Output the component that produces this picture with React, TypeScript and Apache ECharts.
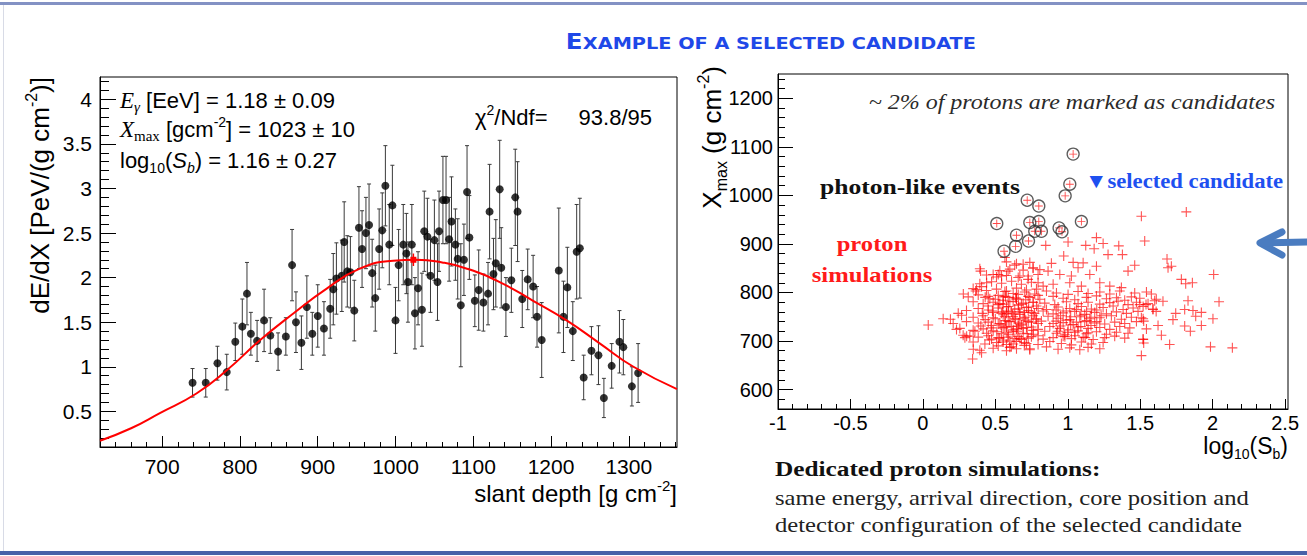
import React, { useEffect, useRef } from "react";
import * as echarts from "echarts";

// ---------- Left panel: longitudinal profile ----------
const depth = [739, 756, 771, 783, 794, 803, 809, 814, 822, 831, 839, 849, 859, 867, 872, 879, 886, 893, 900, 908, 916, 920, 924, 931, 934, 938, 942, 947, 953, 957, 962, 966, 970, 974, 979, 983, 987, 992, 996, 1000, 1004, 1010, 1014, 1016, 1021, 1025, 1029, 1034, 1037, 1041, 1045, 1050, 1054, 1056, 1061, 1065, 1069, 1072, 1077, 1080, 1084, 1088, 1092, 1095, 1102, 1107, 1113, 1119, 1121, 1126, 1129, 1134, 1136, 1142, 1149, 1154, 1157, 1163, 1170, 1177, 1182, 1188, 1210, 1216, 1221, 1228, 1233, 1237, 1242, 1252, 1261, 1268, 1278, 1288, 1293, 1304, 1312];
const dEdX = [0.82, 0.82, 1.04, 0.94, 1.28, 1.45, 1.82, 1.37, 1.29, 1.52, 1.35, 1.17, 1.34, 2.14, 1.5, 1.27, 1.67, 1.37, 1.57, 1.43, 1.65, 1.87, 1.99, 2.02, 2.4, 2.07, 2.06, 1.63, 2.56, 2.32, 2.5, 2.59, 2.05, 1.77, 2.32, 2.53, 3.03, 2.37, 2.81, 1.52, 2.14, 2.37, 2.27, 1.95, 2.37, 1.6, 1.88, 1.64, 2.52, 2.46, 2.02, 2.42, 1.95, 2.52, 2.87, 2.87, 2.43, 2.63, 2.37, 2.21, 1.69, 2.2, 2.96, 2.45, 1.74, 1.86, 1.72, 1.82, 2.74, 2.04, 2.16, 2.99, 2.11, 1.67, 1.97, 2.9, 2.74, 1.76, 1.98, 1.9, 1.56, 1.3, 2.08, 1.56, 1.89, 1.4, 2.29, 2.33, 0.88, 1.18, 1.13, 0.65, 1.01, 1.28, 1.22, 0.78, 0.93];
const dEdXErr = [0.16, 0.16, 0.19, 0.2, 0.21, 0.31, 0.35, 0.24, 0.23, 0.35, 0.2, 0.21, 0.21, 0.4, 0.34, 0.3, 0.35, 0.24, 0.35, 0.3, 0.33, 0.4, 0.4, 0.4, 0.45, 0.4, 0.4, 0.34, 0.46, 0.43, 0.4, 0.46, 0.38, 0.37, 0.45, 0.42, 0.45, 0.45, 0.45, 0.37, 0.4, 0.45, 0.45, 0.45, 0.45, 0.4, 0.41, 0.41, 0.45, 0.43, 0.41, 0.45, 0.43, 0.45, 0.49, 0.49, 0.47, 0.5, 0.4, 0.45, 0.69, 0.4, 0.52, 0.47, 0.29, 0.45, 0.32, 0.35, 0.53, 0.4, 0.49, 0.55, 0.45, 0.33, 0.36, 0.54, 0.56, 0.32, 0.34, 0.35, 0.34, 0.42, 0.7, 0.4, 0.45, 0.33, 0.53, 0.56, 0.25, 0.27, 0.33, 0.22, 0.25, 0.35, 0.31, 0.22, 0.33];
const fitDepth = [620, 660, 697, 744, 783, 826, 869, 912, 954, 997, 1027, 1060, 1092, 1134, 1177, 1220, 1263, 1306, 1362];
const fitValue = [0.17, 0.31, 0.48, 0.7, 0.96, 1.3, 1.6, 1.88, 2.1, 2.19, 2.2, 2.17, 2.1, 1.95, 1.74, 1.52, 1.26, 1.0, 0.75];
const xmaxPoint = [1023, 2.2];
const xmaxErr = [10, 0.07];
const leftXTicks = [700, 800, 900, 1000, 1100, 1200, 1300];
const leftYTicks = [0.5, 1, 1.5, 2, 2.5, 3, 3.5, 4];

// ---------- Right panel: Xmax vs log10(Sb) ----------
const rightXTicks = [-1, -0.5, 0, 0.5, 1, 1.5, 2, 2.5];
const rightYTicks = [600, 700, 800, 900, 1000, 1100, 1200];

const photonLikePoints = [[0.51, 942], [0.56, 885], [0.64, 895], [0.646, 918], [0.72, 990], [0.729, 906], [0.738, 944], [0.772, 926], [0.8, 978], [0.8, 946], [0.818, 926], [0.94, 933], [0.96, 925], [0.982, 999], [1.014, 1023], [1.037, 1085], [1.094, 946]];

const protonPoints = [
  // sparse, left side
  [0.037, 733], [0.14, 746], [0.19, 745], [0.244, 757], [0.279, 797], [0.364, 803], [0.398, 844], [0.44, 820], [0.566, 872], [0.52, 837], [0.232, 724], [0.302, 710], [0.348, 683], [0.343, 663], [0.405, 676], [0.37, 806], [0.405, 812], [0.485, 837], [0.29, 707], [0.324, 710], [0.359, 720],
  // left core
  [0.577, 863], [0.646, 859], [0.738, 862],
  [0.393, 849], [0.531, 845], [0.6, 848], [0.692, 846], [0.761, 850],
  [0.439, 836], [0.508, 832], [0.577, 835], [0.658, 831], [0.727, 834], [0.795, 837],
  [0.393, 818], [0.474, 822], [0.543, 819], [0.612, 823], [0.68, 817], [0.749, 821],
  [0.347, 808], [0.439, 804], [0.508, 807], [0.577, 803], [0.646, 809], [0.715, 805], [0.784, 807],
  [0.313, 791], [0.382, 795], [0.451, 792], [0.52, 794], [0.589, 790], [0.658, 796], [0.727, 792], [0.795, 794],
  [0.347, 781], [0.416, 777], [0.485, 780], [0.554, 776], [0.623, 782], [0.692, 778], [0.761, 780],
  [0.301, 763], [0.382, 767], [0.451, 764], [0.52, 768], [0.589, 762], [0.658, 766], [0.727, 763], [0.795, 767],
  [0.267, 753], [0.347, 749], [0.416, 752], [0.485, 748], [0.554, 754], [0.623, 750], [0.692, 747], [0.761, 752],
  [0.209, 736], [0.301, 740], [0.382, 737], [0.451, 739], [0.52, 735], [0.589, 741], [0.658, 737], [0.727, 740], [0.795, 736],
  [0.255, 726], [0.347, 722], [0.416, 725], [0.485, 721], [0.554, 727], [0.623, 723], [0.692, 726], [0.761, 722],
  [0.278, 712], [0.382, 708], [0.451, 711], [0.52, 707], [0.589, 713], [0.658, 709], [0.727, 706], [0.795, 711],
  [0.347, 698], [0.428, 694], [0.508, 697], [0.577, 693], [0.646, 699], [0.715, 695],
  [0.393, 681], [0.485, 685], [0.577, 680], [0.646, 684], [0.738, 682],
  [0.462, 787], [0.554, 784], [0.646, 786], [0.485, 759], [0.577, 757], [0.669, 760], [0.474, 732], [0.566, 729], [0.658, 731], [0.474, 704], [0.554, 702], [0.635, 705],
  [0.43, 790], [0.5, 786], [0.57, 792], [0.64, 789], [0.71, 785],
  [0.45, 772], [0.52, 775], [0.59, 771], [0.66, 774], [0.73, 770],
  [0.41, 757], [0.48, 762], [0.55, 760], [0.62, 756], [0.7, 759], [0.77, 757],
  [0.43, 744], [0.5, 746], [0.57, 742], [0.64, 745], [0.71, 743], [0.78, 746],
  [0.4, 731], [0.47, 727], [0.54, 733], [0.61, 730], [0.68, 733], [0.75, 729],
  [0.44, 716], [0.51, 719], [0.58, 717], [0.65, 720], [0.72, 715],
  [0.46, 702], [0.53, 706], [0.6, 700], [0.68, 703],
  [0.52, 690], [0.61, 688], [0.7, 691],
  // upper sparse, middle
  [0.848, 897], [1.002, 904], [1.198, 913], [1.124, 897], [1.182, 890], [1.244, 901], [1.352, 896], [1.377, 878], [1.278, 878], [0.972, 875], [1.037, 862], [1.106, 861], [0.887, 860], [0.692, 858], [0.634, 856], [0.76, 851], [0.807, 847], [0.864, 844], [1.071, 851], [1.198, 854], [1.462, 856], [1.416, 844], [1.152, 837], [1.025, 834], [0.945, 837], [0.588, 844], [0.543, 834], [0.669, 834], [0.726, 827], [0.795, 820], [0.83, 813], [0.899, 817], [1.014, 820], [1.094, 813], [1.221, 820], [1.29, 813], [1.37, 810],
  // middle cloud
  [0.566, 802], [0.623, 798], [0.703, 801], [0.772, 797], [0.853, 803], [0.922, 799], [1.002, 796], [1.071, 802], [1.14, 798], [1.221, 801], [1.29, 797], [1.359, 803], [1.462, 799], [1.543, 801],
  [0.554, 791], [0.646, 787], [0.738, 790], [0.807, 786], [0.899, 792], [0.968, 788], [1.048, 785], [1.129, 790], [1.198, 793], [1.267, 787], [1.336, 789], [1.393, 784], [1.439, 791], [1.497, 788], [1.611, 786],
  [0.531, 777], [0.6, 781], [0.68, 776], [0.761, 780], [0.841, 778], [0.91, 775], [0.991, 781], [1.071, 777], [1.14, 780], [1.221, 776], [1.29, 779], [1.347, 782], [1.416, 775], [1.474, 780], [1.554, 777], [1.6, 783],
  [0.577, 770], [0.634, 766], [0.715, 769], [0.784, 772], [0.853, 765], [0.933, 770], [1.014, 767], [1.094, 771], [1.163, 766], [1.244, 769], [1.313, 772], [1.382, 765], [1.451, 768], [1.52, 771], [1.588, 766],
  [0.542, 757], [0.611, 760], [0.669, 755], [0.749, 759], [0.83, 762], [0.899, 756], [0.968, 758], [1.048, 761], [1.117, 755], [1.186, 759], [1.267, 756], [1.336, 760], [1.405, 757], [1.485, 761],
  [0.565, 750], [0.634, 746], [0.703, 749], [0.784, 745], [0.864, 751], [0.933, 747], [1.014, 744], [1.083, 750], [1.152, 746], [1.221, 748], [1.301, 752], [1.37, 745], [1.439, 749], [1.52, 746],
  [0.531, 736], [0.6, 740], [0.669, 735], [0.749, 739], [0.818, 741], [0.899, 736], [0.968, 738], [1.037, 734], [1.117, 740], [1.186, 737], [1.255, 735], [1.324, 739], [1.393, 736], [1.474, 740],
  [0.577, 729], [0.646, 725], [0.715, 728], [0.795, 724], [0.876, 730], [0.945, 726], [1.002, 723], [1.071, 729], [1.14, 726], [1.221, 728], [1.29, 724], [1.359, 730], [1.428, 727], [1.543, 725],
  [0.542, 715], [0.623, 719], [0.692, 716], [0.761, 714], [0.841, 720], [0.922, 716], [0.979, 713], [1.048, 718], [1.129, 715], [1.198, 719], [1.267, 714], [1.336, 718], [1.416, 716],
  [0.588, 708], [0.669, 705], [0.749, 709], [0.83, 704], [0.899, 707], [0.968, 710], [1.025, 705], [1.106, 708], [1.175, 703], [1.255, 707], [1.324, 710], [1.393, 706], [1.52, 704],
  [0.554, 698], [0.623, 694], [0.703, 697], [0.795, 693], [0.876, 699], [0.956, 695], [1.025, 692], [1.094, 698], [1.163, 694], [1.244, 697],
  [0.6, 687], [0.738, 684], [0.853, 688], [0.933, 683], [1.014, 686], [1.083, 682], [1.14, 687], [1.221, 684],
  [0.92, 764], [0.99, 762], [1.06, 765], [1.13, 761], [1.2, 764],
  [0.95, 752], [1.02, 750], [1.09, 753], [1.16, 749], [1.23, 752],
  [0.92, 741], [0.99, 743], [1.06, 739], [1.13, 742], [1.2, 740],
  [0.95, 731], [1.02, 733], [1.09, 730], [1.16, 732],
  [0.93, 720], [1.0, 718], [1.07, 721], [1.14, 717],
  [0.98, 709], [1.05, 711], [1.12, 707],
  // right sparse
  [1.508, 957], [1.818, 966], [1.531, 906], [1.685, 869], [1.715, 854], [1.692, 851], [1.784, 827], [1.814, 818], [1.86, 820], [2.007, 837], [1.577, 797], [1.657, 782], [1.83, 783], [2.044, 781], [1.497, 775], [1.54, 775], [1.588, 765], [1.61, 761], [1.745, 757], [1.807, 765], [1.864, 763], [1.922, 759], [1.883, 751], [2.002, 746], [1.726, 744], [1.508, 748], [1.524, 741], [1.623, 732], [1.807, 731], [1.922, 732], [1.846, 720], [1.646, 712], [1.52, 703], [1.524, 696], [1.703, 693], [1.985, 688], [2.136, 686], [1.508, 670]
];

function steps(a: number, b: number, s: number) {
  const out: number[] = [];
  for (let v = a; v <= b + 1e-9; v += s) out.push(Math.round(v * 1000) / 1000);
  return out;
}

const SANS = "'Liberation Sans', Arial, sans-serif";
const SERIF = "'Liberation Serif', 'Times New Roman', serif";

function richBase(size: number) {
  const lh = Math.round(size * 1.3);
  const small = Math.round(size * 0.62);
  return {
    n: { fontFamily: SANS, fontSize: size, fill: "#000", color: "#000", lineHeight: lh, verticalAlign: "middle" },
    sup: { fontFamily: SANS, fontSize: small, fill: "#000", color: "#000", lineHeight: small, verticalAlign: "top" },
    sub: { fontFamily: SANS, fontSize: small, fill: "#000", color: "#000", lineHeight: small, verticalAlign: "bottom" },
    subi: { fontFamily: SANS, fontStyle: "italic", fontSize: small, fill: "#000", color: "#000", lineHeight: small, verticalAlign: "bottom" },
    ni: { fontFamily: SANS, fontStyle: "italic", fontSize: size, fill: "#000", color: "#000", lineHeight: lh, verticalAlign: "middle" },
    ti: { fontFamily: SERIF, fontStyle: "italic", fontSize: size + 1, fill: "#000", color: "#000", lineHeight: lh, verticalAlign: "middle" },
    tsub: { fontFamily: SERIF, fontSize: Math.round(size * 0.66), fill: "#000", color: "#000", lineHeight: small, verticalAlign: "bottom" },
    tsubi: { fontFamily: SERIF, fontStyle: "italic", fontSize: Math.round(size * 0.66), fill: "#000", color: "#000", lineHeight: small, verticalAlign: "bottom" }
  };
}

function txt(x: number, y: number, text: string, extra: any = {}, elExtra: any = {}) {
  const align = extra.align || "left";
  const va = extra.verticalAlign || "middle";
  return {
    type: "text",
    x,
    y,
    silent: true,
    ...elExtra,
    style: { text, align, textAlign: align, verticalAlign: va, textVerticalAlign: va, ...extra }
  };
}

function majorAxis(gridIndex: number, min: number, max: number, position: string, ticks: number[], tickLen: number, fontSize: number, margin: number) {
  return {
    type: "value",
    gridIndex,
    min,
    max,
    position,
    axisLine: { show: true, onZero: false, lineStyle: { color: "#000", width: 1 } },
    axisTick: { show: true, inside: true, length: tickLen, customValues: ticks, lineStyle: { color: "#000", width: 1 } },
    axisLabel: { show: true, customValues: ticks, fontSize, fontFamily: SANS, color: "#000", margin, formatter: (v: number) => String(v) },
    splitLine: { show: false },
    minorTick: { show: false },
    minorSplitLine: { show: false }
  };
}

function minorAxis(gridIndex: number, min: number, max: number, position: string, ticks: number[], tickLen: number) {
  return {
    type: "value",
    gridIndex,
    min,
    max,
    position,
    offset: 0,
    axisLine: { show: false, onZero: false },
    axisTick: { show: true, inside: true, length: tickLen, customValues: ticks, lineStyle: { color: "#000", width: 1 } },
    axisLabel: { show: false },
    splitLine: { show: false }
  };
}

const plusPath = "path://M4.45,0H5.55V4.45H10V5.55H5.55V10H4.45V5.55H0V4.45H4.45Z";

export default function App() {
  const ref = useRef<HTMLDivElement>(null);
  useEffect(() => {
    document.body.style.margin = "0";
    const chart = echarts.init(ref.current as HTMLDivElement, null, { renderer: "svg" });
    const rb = richBase(22);
    const rbY = richBase(26);
    const rbX = richBase(24);
    const rbRX = richBase(23);

    const option: any = {
      animation: false,
      backgroundColor: "#ffffff",
      grid: [
        { left: 100, top: 77, width: 577, height: 370, show: true, borderColor: "#000", borderWidth: 1, backgroundColor: "transparent", containLabel: false, outerBoundsMode: "none" },
        { left: 778, top: 74, width: 510, height: 335, show: true, borderColor: "#000", borderWidth: 1, backgroundColor: "transparent", containLabel: false, outerBoundsMode: "none" }
      ],
      xAxis: [
        majorAxis(0, 620, 1362, "bottom", leftXTicks, 11, 21, 9),
        minorAxis(0, 620, 1362, "bottom", steps(620, 1360, 20), 5),
        majorAxis(1, -1, 2.52, "bottom", rightXTicks, 10, 20, 4),
        minorAxis(1, -1, 2.52, "bottom", steps(-1, 2.5, 0.1), 5)
      ],
      yAxis: [
        majorAxis(0, 0.1, 4.25, "left", leftYTicks, 16, 21, 8),
        minorAxis(0, 0.1, 4.25, "left", steps(0.1, 4.2, 0.1), 9),
        majorAxis(1, 560, 1250, "left", rightYTicks, 15, 20, 5),
        minorAxis(1, 560, 1250, "left", steps(560, 1240, 20), 7)
      ],
      series: [
        {
          type: "custom",
          xAxisIndex: 0,
          yAxisIndex: 0,
          data: depth.map((d, i) => [d, dEdX[i], dEdXErr[i]]),
          encode: { x: 0, y: 1 },
          z: 2,
          renderItem: (params: any, api: any) => {
            const x = api.value(0), y = api.value(1), e = api.value(2);
            const t = api.coord([x, y + e]);
            const b = api.coord([x, y - e]);
            const c = 2;
            const st = { stroke: "#3a3a3a", lineWidth: 1 };
            return {
              type: "group",
              children: [
                { type: "line", shape: { x1: t[0], y1: t[1], x2: b[0], y2: b[1] }, style: st },
                { type: "line", shape: { x1: t[0] - c, y1: t[1], x2: t[0] + c, y2: t[1] }, style: st },
                { type: "line", shape: { x1: b[0] - c, y1: b[1], x2: b[0] + c, y2: b[1] }, style: st }
              ]
            };
          }
        },
        {
          type: "scatter",
          xAxisIndex: 0,
          yAxisIndex: 0,
          data: depth.map((d, i) => [d, dEdX[i]]),
          symbol: "circle",
          symbolSize: 8,
          itemStyle: { color: "#000" },
          z: 3
        },
        {
          type: "line",
          xAxisIndex: 0,
          yAxisIndex: 0,
          data: fitDepth.map((d, i) => [d, fitValue[i]]),
          smooth: true,
          symbol: "none",
          lineStyle: { color: "#ff0000", width: 2 },
          z: 4
        },
        {
          type: "custom",
          xAxisIndex: 0,
          yAxisIndex: 0,
          data: [[xmaxPoint[0], xmaxPoint[1], xmaxErr[0], xmaxErr[1]]],
          encode: { x: 0, y: 1 },
          z: 5,
          renderItem: (params: any, api: any) => {
            const x = api.value(0), y = api.value(1), ex = api.value(2), ey = api.value(3);
            const p = api.coord([x, y]);
            const l = api.coord([x - ex, y]);
            const r = api.coord([x + ex, y]);
            const t = api.coord([x, y + ey]);
            const b = api.coord([x, y - ey]);
            const st = { stroke: "#ff0000", lineWidth: 1.5 };
            return {
              type: "group",
              children: [
                { type: "line", shape: { x1: l[0], y1: l[1], x2: r[0], y2: r[1] }, style: st },
                { type: "line", shape: { x1: t[0], y1: t[1], x2: b[0], y2: b[1] }, style: st },
                { type: "rect", shape: { x: p[0] - 3, y: p[1] - 3, width: 6, height: 6 }, style: { fill: "#ff0000" } }
              ]
            };
          }
        },
        {
          type: "scatter",
          xAxisIndex: 2,
          yAxisIndex: 2,
          data: protonPoints,
          symbol: plusPath,
          symbolSize: 10,
          itemStyle: { color: "rgba(255,0,0,0.85)" },
          z: 2
        },
        {
          type: "scatter",
          xAxisIndex: 2,
          yAxisIndex: 2,
          data: photonLikePoints,
          symbol: plusPath,
          symbolSize: 8,
          itemStyle: { color: "rgba(255,0,0,0.9)" },
          z: 3
        },
        {
          type: "scatter",
          xAxisIndex: 2,
          yAxisIndex: 2,
          data: photonLikePoints,
          symbol: "circle",
          symbolSize: 12,
          itemStyle: { color: "rgba(0,0,0,0)", borderColor: "#333", borderWidth: 1.3 },
          z: 4
        }
      ],
      graphic: [
        // slide frame
        { type: "rect", silent: true, shape: { x: 0, y: 2, width: 1307, height: 3 }, style: { fill: "#8392c4" } },
        { type: "rect", silent: true, shape: { x: 0, y: 551, width: 1307, height: 4 }, style: { fill: "#4862a8" } },
        { type: "rect", silent: true, shape: { x: 3, y: 5, width: 1, height: 546 }, style: { fill: "#d8dbe6" } },
        // title
        txt(771, 40, "{b|E}{s|XAMPLE OF A SELECTED CANDIDATE}", {
          align: "center",
          rich: {
            b: { fontFamily: "'DejaVu Sans', sans-serif", fontWeight: "bold", fontSize: 21, fill: "#1f48e8", color: "#1f48e8", lineHeight: 24, verticalAlign: "bottom" },
            s: { fontFamily: "'DejaVu Sans', sans-serif", fontWeight: "bold", fontSize: 16.5, fill: "#1f48e8", color: "#1f48e8", lineHeight: 20, verticalAlign: "bottom" }
          }
        }, { scaleX: 1.17 }),
        // left panel annotations
        txt(120, 100, "{ti|E}{tsubi|γ}{n| [EeV] = 1.18 ± 0.09}", { rich: rb }),
        txt(120, 129, "{ti|X}{tsub|max}{n| [gcm}{sup|-2}{n|] = 1023 ± 10}", { rich: rb }),
        txt(120, 160, "{n|log}{sub|10}{n|(}{ni|S}{subi|b}{n|) = 1.16 ± 0.27}", { rich: rb }),
        txt(475, 117, "{n|χ}{sup|2}{n|/Ndf=}", { rich: rb }),
        txt(652, 117, "{n|93.8/95}", { rich: rb, align: "right" }),
        txt(40, 77, "{n|dE/dX [PeV/(g cm}{sup|-2}{n|)]}", { rich: rbY, align: "right" }, { rotation: Math.PI / 2 }),
        txt(677, 493, "{n|slant depth [g cm}{sup|-2}{n|]}", { rich: rbX, align: "right" }),
        // right panel annotations
        txt(712, 66, "{n|X}{sub|max}{n| (g cm}{sup|-2}{n|)}", { rich: rbY, align: "right" }, { rotation: Math.PI / 2 }),
        txt(1288, 446, "{n|log}{sub|10}{n|(S}{sub|b}{n|)}", { rich: rbRX, align: "right" }),
        txt(1275, 102, "~ 2% of protons are marked as candidates", { align: "right", fontFamily: SERIF, fontStyle: "italic", fontSize: 20, fill: "#2a2a2a" }, { scaleX: 1.2 }),
        txt(820, 187, "photon-like events", { fontFamily: SERIF, fontWeight: "bold", fontSize: 21, fill: "#111" }, { scaleX: 1.22 }),
        txt(1085, 181, "▼selected candidate", { fontFamily: SERIF, fontWeight: "bold", fontSize: 21, fill: "#1e50f0" }, { scaleX: 1.08 }),
        txt(872, 243, "proton", { align: "center", fontFamily: SERIF, fontWeight: "bold", fontSize: 22, fill: "#ff1a1a" }, { scaleX: 1.12 }),
        txt(872, 274, "simulations", { align: "center", fontFamily: SERIF, fontWeight: "bold", fontSize: 22, fill: "#ff1a1a" }, { scaleX: 1.12 }),
        // arrow
        { type: "polyline", silent: true, shape: { points: [[1282, 232], [1260, 243], [1282, 255]] }, style: { fill: "none", stroke: "#4a7cc0", lineWidth: 7, lineCap: "round", lineJoin: "round" } },
        { type: "line", silent: true, shape: { x1: 1262, y1: 243, x2: 1310, y2: 242 }, style: { stroke: "#4a7cc0", lineWidth: 7, lineCap: "round" } },
        // bottom text
        txt(775, 469, "Dedicated proton simulations:", { fontFamily: SERIF, fontWeight: "bold", fontSize: 22, fill: "#111" }, { scaleX: 1.15 }),
        txt(775, 497, "same energy, arrival direction, core position and", { fontFamily: SERIF, fontSize: 22, fill: "#222" }, { scaleX: 1.12 }),
        txt(775, 524, "detector configuration of the selected candidate", { fontFamily: SERIF, fontSize: 22, fill: "#222" }, { scaleX: 1.12 })
      ]
    };
    chart.setOption(option);
    return () => chart.dispose();
  }, []);
  return <div ref={ref} style={{ position: "absolute", left: 0, top: 0, width: 1307, height: 556 }} />;
}
